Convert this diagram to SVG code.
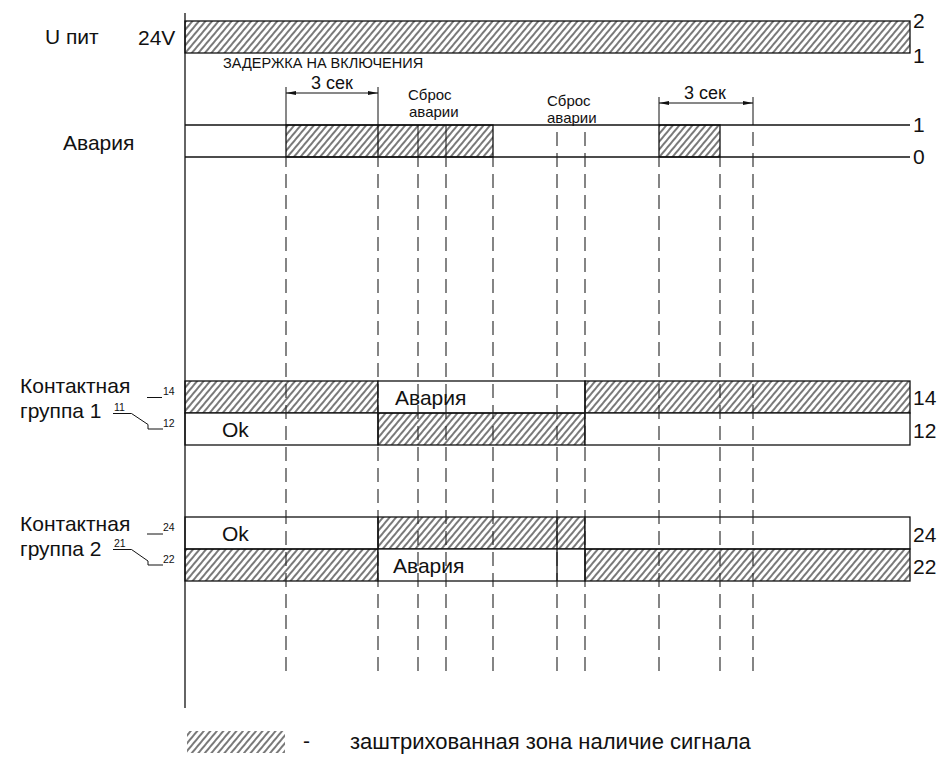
<svg xmlns="http://www.w3.org/2000/svg" width="939" height="765" viewBox="0 0 939 765">
<defs>
<pattern id="hatch" patternUnits="userSpaceOnUse" width="5" height="10" patternTransform="rotate(40)">
<line x1="1" y1="0" x2="1" y2="10" stroke="#000" stroke-width="1.05"/>
</pattern>
<marker id="arr" viewBox="0 0 10 4" refX="10" refY="2" markerWidth="10" markerHeight="4" markerUnits="userSpaceOnUse" orient="auto-start-reverse">
<path d="M0,0 L10,2 L0,4 Z" fill="#111"/>
</marker>
<style>
text{font-family:"Liberation Sans",Arial,sans-serif;fill:#111}
.lbl{font-size:21px}
.sm{font-size:15px}
.tiny{font-size:10.5px}
.ln{stroke:#111;stroke-width:1.3;fill:none}
.thin{stroke:#111;stroke-width:1;fill:none}
.h{fill:url(#hatch);stroke:#111;stroke-width:1.3}
.w{fill:#fff;stroke:#111;stroke-width:1.3}
.dash{stroke:#222;stroke-width:1.1;stroke-dasharray:14 7;fill:none}
</style>
</defs>
<rect width="939" height="765" fill="#fff"/>

<g id="upit">
<rect class="h" x="185" y="21" width="725" height="32"/>
<text class="lbl" x="45" y="44">U пит</text>
<text class="lbl" x="138" y="45">24V</text>
<text class="lbl" x="913" y="28">2</text>
<text class="lbl" x="913" y="63">1</text>
<text x="223" y="68" style="font-size:14.5px">ЗАДЕРЖКА НА ВКЛЮЧЕНИЯ</text>
</g>

<g id="avaria">
<line class="ln" x1="185" y1="125" x2="910" y2="125"/>
<line class="ln" x1="185" y1="157" x2="910" y2="157"/>
<rect class="h" x="286" y="125" width="207" height="32"/>
<rect class="h" x="659" y="125" width="61" height="32"/>
<line class="ln" x1="378" y1="125" x2="378" y2="157"/>
<line class="thin" x1="418" y1="125" x2="418" y2="157"/>
<line class="thin" x1="446" y1="125" x2="446" y2="157"/>
<text class="lbl" x="63" y="150">Авария</text>
<text class="lbl" x="913" y="132">1</text>
<text class="lbl" x="913" y="164">0</text>
<text class="sm" x="408" y="100">Сброс</text>
<text class="sm" x="409" y="117">аварии</text>
<text class="sm" x="547" y="106">Сброс</text>
<text class="sm" x="547" y="123">аварии</text>
</g>

<g id="dims">
<line class="thin" x1="286" y1="87" x2="286" y2="125"/>
<line class="thin" x1="378" y1="87" x2="378" y2="125"/>
<line class="thin" x1="286" y1="93" x2="378" y2="93" marker-start="url(#arr)" marker-end="url(#arr)"/>
<text x="332" y="89" text-anchor="middle" style="font-size:18px">3 сек</text>
<line class="thin" x1="659" y1="97" x2="659" y2="125"/>
<line class="thin" x1="753" y1="97" x2="753" y2="125"/>
<line class="thin" x1="659" y1="103" x2="753" y2="103" marker-start="url(#arr)" marker-end="url(#arr)"/>
<text x="705" y="99" text-anchor="middle" style="font-size:18px">3 сек</text>
</g>

<g id="kg1">
<rect class="h" x="185" y="381" width="193" height="32"/>
<rect class="w" x="378" y="381" width="207" height="32"/>
<rect class="h" x="585" y="381" width="325" height="32"/>
<rect class="w" x="185" y="413" width="193" height="32"/>
<rect class="h" x="378" y="413" width="207" height="32"/>
<rect class="w" x="585" y="413" width="325" height="32"/>
<text class="lbl" x="395" y="405">Авария</text>
<text class="lbl" x="222" y="437">Ok</text>
<text class="lbl" x="913" y="405">14</text>
<text class="lbl" x="913" y="438">12</text>
<text class="lbl" x="20" y="393">Контактная</text>
<text class="lbl" x="20" y="418">группа 1</text>
<line class="thin" x1="147" y1="397.5" x2="162" y2="397.5"/>
<text class="tiny" x="163" y="395">14</text>
<text class="tiny" x="114" y="411">11</text>
<polyline class="thin" points="113,413.5 131.5,413.5 148,424.5 148,429 163,429"/>
<text class="tiny" x="163" y="427">12</text>
</g>

<g id="kg2">
<rect class="w" x="185" y="517" width="193" height="32"/>
<rect class="h" x="378" y="517" width="207" height="32"/>
<rect class="w" x="585" y="517" width="325" height="32"/>
<rect class="h" x="185" y="549" width="193" height="32"/>
<rect class="w" x="378" y="549" width="207" height="32"/>
<rect class="h" x="585" y="549" width="325" height="32"/>
<line class="ln" x1="557" y1="517" x2="557" y2="581"/>
<text class="lbl" x="222" y="541">Ok</text>
<text class="lbl" x="393" y="573">Авария</text>
<text class="lbl" x="913" y="542">24</text>
<text class="lbl" x="913" y="574">22</text>
<text class="lbl" x="20" y="531">Контактная</text>
<text class="lbl" x="20" y="556">группа 2</text>
<line class="thin" x1="147" y1="534" x2="163" y2="534"/>
<text class="tiny" x="163" y="531">24</text>
<text class="tiny" x="114" y="547">21</text>
<polyline class="thin" points="113,549.5 131.5,549.5 148,561 148,565 163,565"/>
<text class="tiny" x="163" y="563">22</text>
</g>

<g id="connectors">
<line class="dash" x1="286" y1="671" x2="286" y2="157"/>
<line class="dash" x1="378" y1="671" x2="378" y2="157"/>
<line class="dash" x1="418" y1="671" x2="418" y2="157"/>
<line class="dash" x1="446" y1="671" x2="446" y2="157"/>
<line class="dash" x1="493" y1="671" x2="493" y2="157"/>
<line class="dash" x1="557" y1="671" x2="557" y2="125"/>
<line class="dash" x1="585" y1="671" x2="585" y2="125"/>
<line class="dash" x1="659" y1="671" x2="659" y2="157"/>
<line class="dash" x1="720" y1="671" x2="720" y2="157"/>
<line class="dash" x1="753" y1="671" x2="753" y2="125"/>
</g>

<g id="axis">
<line class="ln" x1="185" y1="13" x2="185" y2="708"/>
</g>

<g id="legend">
<rect x="187" y="731" width="98" height="22" fill="url(#hatch)"/>
<text class="lbl" x="303" y="748">-</text>
<text x="350" y="749" style="font-size:22px">заштрихованная зона наличие сигнала</text>
</g>
</svg>
